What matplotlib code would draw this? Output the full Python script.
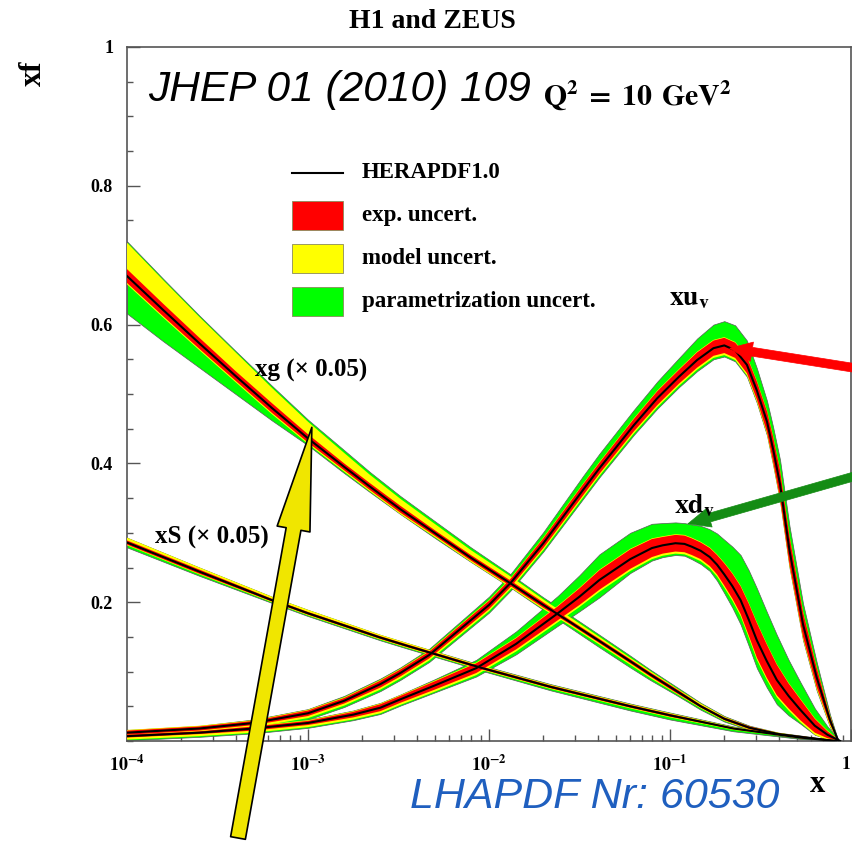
import numpy as np
import matplotlib
matplotlib.use("Agg")
import matplotlib.pyplot as plt
from matplotlib.patches import Rectangle
from matplotlib.lines import Line2D
from matplotlib.ticker import FixedLocator, MultipleLocator, LogLocator, NullFormatter

plt.rcParams['mathtext.fontset'] = 'stix'

# ---- data (log10 x, xf) ----
# xu_v
UV_LOGX = [-4.00, -3.60, -3.30, -3.00, -2.80, -2.60, -2.49, -2.33, -2.00, -1.88,
           -1.70, -1.48, -1.39, -1.20, -1.07, -0.95, -0.85, -0.76, -0.70, -0.64,
           -0.575, -0.52, -0.464, -0.43, -0.392, -0.34, -0.265, -0.19, -0.116, -0.07]
UV_C = [0.012, 0.018, 0.026, 0.040, 0.058, 0.082, 0.098, 0.124, 0.196, 0.228,
        0.285, 0.362, 0.393, 0.455, 0.494, 0.525, 0.549, 0.566, 0.570, 0.563,
        0.542, 0.505, 0.460, 0.420, 0.370, 0.275, 0.168, 0.092, 0.030, 0.0]
UV_EXP = [0.003, 0.003, 0.003, 0.004, 0.004, 0.005, 0.005, 0.005, 0.006, 0.006,
          0.007, 0.008, 0.008, 0.009, 0.010, 0.010, 0.011, 0.011, 0.011, 0.011,
          0.012, 0.013, 0.015, 0.018, 0.020, 0.020, 0.018, 0.014, 0.006, 0.0]
UV_MOD_UP = [0.004, 0.004, 0.004, 0.005, 0.005, 0.006, 0.006, 0.006, 0.007, 0.007,
             0.008, 0.009, 0.009, 0.010, 0.011, 0.011, 0.012, 0.012, 0.012, 0.012,
             0.013, 0.014, 0.016, 0.019, 0.021, 0.021, 0.019, 0.015, 0.007, 0.0]
UV_MOD_DN = [0.006, 0.006, 0.006, 0.007, 0.007, 0.008, 0.008, 0.008, 0.009, 0.009,
             0.010, 0.011, 0.011, 0.012, 0.013, 0.013, 0.014, 0.014, 0.014, 0.014,
             0.015, 0.016, 0.018, 0.021, 0.023, 0.023, 0.021, 0.017, 0.009, 0.0]
UV_TOT_UP = [0.004, 0.004, 0.005, 0.006, 0.007, 0.008, 0.008, 0.009, 0.012, 0.013,
             0.016, 0.020, 0.021, 0.022, 0.024, 0.027, 0.031, 0.034, 0.035, 0.036,
             0.035, 0.032, 0.030, 0.032, 0.035, 0.035, 0.030, 0.022, 0.008, 0.0]
UV_TOT_DN = [0.008, 0.008, 0.008, 0.009, 0.009, 0.010, 0.010, 0.010, 0.011, 0.011,
             0.012, 0.013, 0.013, 0.014, 0.015, 0.015, 0.016, 0.016, 0.016, 0.016,
             0.017, 0.018, 0.020, 0.023, 0.025, 0.025, 0.023, 0.019, 0.010, 0.0]

# xd_v
DV_LOGX = [-4.00, -3.60, -3.30, -3.00, -2.75, -2.60, -2.49, -2.30, -2.07, -1.85,
           -1.62, -1.50, -1.39, -1.22, -1.10, -1.04, -0.97, -0.92, -0.88, -0.83,
           -0.78, -0.74, -0.70, -0.655, -0.61, -0.565, -0.52, -0.465, -0.41, -0.345,
           -0.28, -0.20, -0.13, -0.06]
DV_C = [0.007, 0.012, 0.018, 0.026, 0.038, 0.048, 0.060, 0.080, 0.105, 0.140,
        0.184, 0.208, 0.232, 0.262, 0.278, 0.282, 0.285, 0.284, 0.280, 0.274,
        0.265, 0.254, 0.240, 0.223, 0.203, 0.175, 0.145, 0.115, 0.088, 0.065,
        0.045, 0.022, 0.009, 0.0]
DV_EXP = [0.002, 0.002, 0.003, 0.003, 0.004, 0.005, 0.005, 0.006, 0.007, 0.008,
          0.010, 0.012, 0.014, 0.014, 0.013, 0.012, 0.012, 0.012, 0.012, 0.012,
          0.013, 0.014, 0.016, 0.018, 0.020, 0.023, 0.025, 0.024, 0.022, 0.018,
          0.015, 0.010, 0.005, 0.0]
DV_MOD_UP = [0.003, 0.003, 0.004, 0.004, 0.005, 0.006, 0.006, 0.007, 0.008, 0.009,
             0.011, 0.013, 0.015, 0.015, 0.014, 0.013, 0.013, 0.013, 0.013, 0.013,
             0.014, 0.015, 0.017, 0.019, 0.021, 0.024, 0.026, 0.025, 0.023, 0.019,
             0.016, 0.011, 0.006, 0.0]
DV_MOD_DN = [0.005, 0.005, 0.006, 0.006, 0.007, 0.008, 0.008, 0.009, 0.010, 0.011,
             0.013, 0.015, 0.017, 0.017, 0.016, 0.015, 0.015, 0.015, 0.015, 0.015,
             0.016, 0.017, 0.019, 0.021, 0.023, 0.026, 0.028, 0.027, 0.025, 0.021,
             0.018, 0.013, 0.008, 0.0]
DV_TOT_UP = [0.003, 0.004, 0.005, 0.005, 0.006, 0.007, 0.007, 0.009, 0.012, 0.018,
             0.025, 0.031, 0.037, 0.038, 0.035, 0.032, 0.030, 0.030, 0.032, 0.036,
             0.040, 0.045, 0.050, 0.057, 0.065, 0.071, 0.075, 0.071, 0.065, 0.052,
             0.040, 0.025, 0.012, 0.0]
DV_TOT_DN = [0.006, 0.006, 0.007, 0.007, 0.008, 0.009, 0.009, 0.010, 0.012, 0.015,
             0.018, 0.021, 0.025, 0.020, 0.018, 0.017, 0.017, 0.017, 0.018, 0.019,
             0.020, 0.023, 0.027, 0.031, 0.035, 0.038, 0.040, 0.038, 0.035, 0.028,
             0.020, 0.013, 0.006, 0.0]

# xg (x 0.05)
G_LOGX = [-4.00, -3.80, -3.60, -3.40, -3.20, -3.00, -2.80, -2.66, -2.49, -2.29,
          -2.10, -1.88, -1.70, -1.55, -1.39, -1.22, -1.11, -0.97, -0.83, -0.70,
          -0.56, -0.40, -0.28, -0.15, -0.09]
G_C = [0.670, 0.621, 0.573, 0.526, 0.480, 0.436, 0.395, 0.367, 0.334, 0.298,
       0.264, 0.227, 0.196, 0.171, 0.144, 0.115, 0.096, 0.073, 0.050, 0.032,
       0.019, 0.010, 0.006, 0.002, 0.0]
G_EXP = [0.010, 0.009, 0.008, 0.007, 0.007, 0.006, 0.005, 0.005, 0.005, 0.004,
         0.004, 0.004, 0.004, 0.003, 0.003, 0.003, 0.003, 0.003, 0.002, 0.002,
         0.002, 0.001, 0.001, 0.001, 0.0]
G_MOD_UP = [0.048, 0.043, 0.038, 0.034, 0.029, 0.024, 0.020, 0.017, 0.015, 0.013,
            0.011, 0.010, 0.008, 0.007, 0.006, 0.005, 0.005, 0.004, 0.004, 0.003,
            0.002, 0.002, 0.001, 0.001, 0.0]
G_MOD_DN = [0.012, 0.011, 0.010, 0.009, 0.009, 0.008, 0.007, 0.007, 0.007, 0.006,
            0.006, 0.006, 0.006, 0.005, 0.005, 0.005, 0.005, 0.004, 0.003, 0.003,
            0.003, 0.002, 0.002, 0.001, 0.0]
G_TOT_UP = [0.050, 0.045, 0.040, 0.036, 0.032, 0.027, 0.024, 0.021, 0.019, 0.017,
            0.015, 0.013, 0.011, 0.010, 0.009, 0.008, 0.007, 0.006, 0.005, 0.004,
            0.003, 0.002, 0.002, 0.001, 0.0]
G_TOT_DN = [0.054, 0.045, 0.035, 0.026, 0.018, 0.010, 0.009, 0.008, 0.007, 0.007,
            0.006, 0.006, 0.007, 0.008, 0.009, 0.009, 0.008, 0.006, 0.005, 0.004,
            0.003, 0.002, 0.002, 0.001, 0.0]

# xS (x 0.05)
S_LOGX = [-4.00, -3.60, -3.20, -3.00, -2.60, -2.45, -2.05, -1.66, -1.22, -1.00, -0.65, -0.28, -0.08]
S_C = [0.286, 0.244, 0.203, 0.184, 0.149, 0.137, 0.106, 0.078, 0.050, 0.037, 0.018, 0.005, 0.0]
S_EXP = [0.003, 0.003, 0.002, 0.002, 0.002, 0.002, 0.002, 0.002, 0.002, 0.002, 0.001, 0.001, 0.0]
S_MOD_UP = [0.007, 0.006, 0.005, 0.005, 0.004, 0.004, 0.003, 0.003, 0.003, 0.003, 0.002, 0.001, 0.0]
S_MOD_DN = [0.004, 0.004, 0.003, 0.003, 0.003, 0.003, 0.003, 0.003, 0.003, 0.003, 0.002, 0.001, 0.0]
S_TOT_UP = [0.007, 0.006, 0.005, 0.005, 0.004, 0.004, 0.004, 0.004, 0.004, 0.004, 0.003, 0.002, 0.0]
S_TOT_DN = [0.007, 0.006, 0.004, 0.004, 0.004, 0.004, 0.004, 0.005, 0.006, 0.006, 0.004, 0.002, 0.0]

Y_TICKS = [0.2, 0.4, 0.6, 0.8, 1.0]
Y_TICK_LABELS = ["0.2", "0.4", "0.6", "0.8", "1"]
X_TICKS = [1e-4, 1e-3, 1e-2, 1e-1, 1.0]
X_TICK_LABELS = [r"$\mathbf{10^{-4}}$", r"$\mathbf{10^{-3}}$", r"$\mathbf{10^{-2}}$",
                 r"$\mathbf{10^{-1}}$", r"$\mathbf{1}$"]
LEGEND_LABELS = ["HERAPDF1.0", "exp. uncert.", "model uncert.", "parametrization uncert."]

RED = "#ff0000"
YELLOW = "#ffff00"
GREEN = "#00ff00"
SERIF = "Liberation Serif"
SANS = "Liberation Sans"

W, H = 853, 843


def fx(px):
    return px / W


def fy(py):
    return 1 - py / H


def draw_pdf(ax, logx, c, exp, mod_up, mod_dn, tot_up, tot_dn):
    x = 10.0 ** np.asarray(logx)
    c = np.asarray(c)
    lo = lambda e: np.clip(c - np.asarray(e), 0, None)
    hi = lambda e: c + np.asarray(e)
    ax.fill_between(x, lo(tot_dn), hi(tot_up), facecolor=GREEN, edgecolor="#5a5a5a", lw=0.5, zorder=2)
    ax.fill_between(x, lo(mod_dn), hi(mod_up), facecolor=YELLOW, edgecolor="none", zorder=3)
    ax.fill_between(x, lo(exp), hi(exp), facecolor=RED, edgecolor="none", zorder=4)
    ax.plot(x, c, color="black", lw=1.5, zorder=5, solid_joinstyle="round")


fig = plt.figure(figsize=(W / 100, H / 100), dpi=100)
ax = fig.add_axes([fx(127), fy(741), 724 / W, 694 / H])
ax.set_xscale("log")
ax.set_xlim(1e-4, 1)
ax.set_ylim(0, 1)

draw_pdf(ax, S_LOGX, S_C, S_EXP, S_MOD_UP, S_MOD_DN, S_TOT_UP, S_TOT_DN)
draw_pdf(ax, G_LOGX, G_C, G_EXP, G_MOD_UP, G_MOD_DN, G_TOT_UP, G_TOT_DN)
draw_pdf(ax, DV_LOGX, DV_C, DV_EXP, DV_MOD_UP, DV_MOD_DN, DV_TOT_UP, DV_TOT_DN)
draw_pdf(ax, UV_LOGX, UV_C, UV_EXP, UV_MOD_UP, UV_MOD_DN, UV_TOT_UP, UV_TOT_DN)

# axes / ticks
for s in ax.spines.values():
    s.set_color("#555555")
    s.set_linewidth(1.2)
ax.yaxis.set_major_locator(FixedLocator(Y_TICKS))
ax.set_yticklabels(Y_TICK_LABELS)
ax.yaxis.set_minor_locator(MultipleLocator(0.05))
ax.xaxis.set_major_locator(FixedLocator(X_TICKS))
ax.set_xticklabels(X_TICK_LABELS)
ax.xaxis.set_minor_locator(LogLocator(base=10, subs=np.arange(2, 10)))
ax.xaxis.set_minor_formatter(NullFormatter())
ax.tick_params(which="both", direction="in", top=False, right=False, color="#555555", width=1)
ax.tick_params(which="major", length=9, pad=10, labelsize=13)
ax.tick_params(which="minor", length=4.5)
for lab in ax.get_yticklabels():
    lab.set_fontfamily(SERIF)
    lab.set_fontweight("bold")
# last x label sits at the very edge of the picture
ax.get_xticklabels()[-1].set_horizontalalignment("right")

# texts
fig.text(fx(432), fy(22), "H1 and ZEUS", ha="center", va="center", family=SERIF, weight="bold", size=20)
fig.text(fx(33), fy(73), "xf", ha="center", va="center", rotation=90, family=SERIF, weight="bold", size=22)
fig.text(fx(818), fy(785), "x", ha="center", va="center", family=SERIF, weight="bold", size=22)
fig.text(fx(148), fy(90), "JHEP 01 (2010) 109", ha="left", va="center", family=SANS, style="italic", size=30.5)
fig.text(fx(543), fy(95), r"$\mathbf{Q^2 \;=\; 10\;\, GeV^2}$", ha="left", va="center", size=21.5)
fig.text(fx(410), fy(797), "LHAPDF Nr: 60530", ha="left", va="center", family=SANS, style="italic",
         size=31, color="#1f5fbf")

fig.text(fx(255), fy(370), "xg (× 0.05)", ha="left", va="center", family=SERIF, weight="bold", size=18)
fig.text(fx(155), fy(537), "xS (× 0.05)", ha="left", va="center", family=SERIF, weight="bold", size=18)
fig.text(fx(669), fy(297), r"$\mathbf{xu_v}$", ha="left", va="center", size=20)
fig.text(fx(674), fy(505), r"$\mathbf{xd_v}$", ha="left", va="center", size=20)

# legend, drawn by hand
fig.add_artist(Line2D([fx(292), fx(343)], [fy(173), fy(173)], color="black", lw=1.5,
                      transform=fig.transFigure))
for py, col in zip([201, 244, 287], [RED, YELLOW, GREEN]):
    fig.add_artist(Rectangle((fx(292), fy(py + 29)), 51 / W, 29 / H, facecolor=col,
                             edgecolor="#8a8a5a", lw=0.6, transform=fig.transFigure))
for py, txt in zip([173, 216, 259, 302], LEGEND_LABELS):
    fig.text(fx(362), fy(py), txt, ha="left", va="center", family=SERIF, weight="bold", size=16.5)

# arrows
ax.annotate("", xy=(1.05e-3, 0.452), xycoords="data", xytext=(238, H - 838), textcoords="figure pixels",
            arrowprops=dict(arrowstyle="simple,head_length=3.1,head_width=1.0,tail_width=0.45",
                            mutation_scale=24, fc="#f0e600", ec="black", lw=1.2, shrinkA=0, shrinkB=0),
            annotation_clip=False, zorder=10)
ax.annotate("", xy=(0.214, 0.566), xycoords="data", xytext=(880, H - 372), textcoords="figure pixels",
            arrowprops=dict(arrowstyle="simple,head_length=1.15,head_width=1.0,tail_width=0.45",
                            mutation_scale=14, fc=RED, ec=RED, lw=0.5, shrinkA=0, shrinkB=0),
            annotation_clip=False, zorder=10)
ax.annotate("", xy=(0.1256, 0.313), xycoords="data", xytext=(880, H - 469), textcoords="figure pixels",
            arrowprops=dict(arrowstyle="simple,head_length=1.15,head_width=1.0,tail_width=0.45",
                            mutation_scale=14, fc="#148c14", ec="#148c14", lw=0.5, shrinkA=0, shrinkB=0),
            annotation_clip=False, zorder=10)

fig.savefig("out.png", dpi=100, facecolor="white")
